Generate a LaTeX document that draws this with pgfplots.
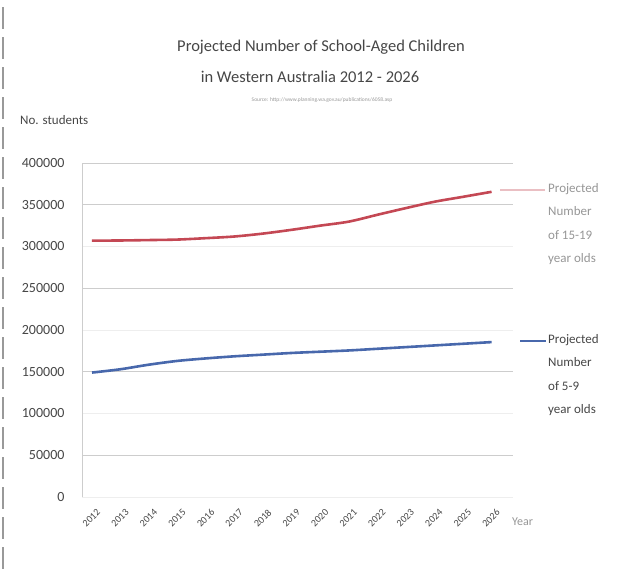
\documentclass[border=0pt]{standalone}
\usepackage{fontspec}
\setmainfont{Carlito}
\usepackage{pgfplots}
\pgfplotsset{compat=1.18}
\definecolor{redline}{RGB}{196,72,84}
\definecolor{blueline}{RGB}{72,104,172}
\definecolor{txt}{RGB}{70,70,70}
\definecolor{ltxt}{RGB}{150,150,150}
\definecolor{gridc}{RGB}{205,205,205}
\definecolor{gridf}{RGB}{238,238,238}

\pgfplotstableread{
year v
2012 307000
2013 307200
2014 307700
2015 308300
2016 310000
2017 312000
2018 315500
2019 320000
2020 325000
2021 329800
2022 338000
2023 346000
2024 353600
2025 359500
2026 365500
}\older

\pgfplotstableread{
year v
2012 149000
2013 153000
2014 158500
2015 163000
2016 166000
2017 168500
2018 170500
2019 172500
2020 174000
2021 175500
2022 177500
2023 179500
2024 181500
2025 183500
2026 185500
}\younger

\begin{document}
\begin{tikzpicture}[x=1pt,y=1pt]
\path[use as bounding box] (0,0) rectangle (619,569);
\draw[gray!80, line width=1.2pt, dash pattern=on 22pt off 8pt] (3,0) -- (3,569);
\begin{axis}[
  at={(82pt,72pt)}, anchor=south west,
  scale only axis, width=431pt, height=334pt,
  xmin=2011.65, xmax=2026.75,
  ymin=0, ymax=400000,
  ytick={0,50000,...,400000},
  xtick={2012,...,2026},
  scaled y ticks=false,
  axis lines*=left,
  x axis line style={draw=none},
  y axis line style={draw=gridc},
  major tick length=0pt,
  ymajorgrids,
  grid style={draw=gridf, line width=0.8pt},
  extra y ticks={50000,150000,250000,350000,400000},
  extra y tick labels={},
  extra y tick style={grid=major, major grid style={draw=gridc, line width=0.8pt}},
  /pgf/number format/.cd, fixed, 1000 sep={}, assume math mode=true,
  /pgfplots/.cd,
  yticklabel style={font=\fontsize{14}{16}\selectfont, text=txt, anchor=east, xshift=-14pt},
  yticklabel={\pgfmathprintnumber[fixed,1000 sep={},assume math mode=true]{\tick}},
  xticklabel style={font=\fontsize{10}{12}\selectfont, text=txt, rotate=45, anchor=north east, inner sep=1pt, xshift=-4pt, yshift=-10pt},
  xticklabel={\pgfmathprintnumber[fixed,1000 sep={},assume math mode=true]{\tick}},
  clip=false,
]
\addplot[redline, line width=2.6pt, smooth] table[x=year,y=v]{\older};
\addplot[blueline, line width=2.6pt, smooth] table[x=year,y=v]{\younger};
\end{axis}
% title and labels
\node[text=txt, font=\fontsize{16.5}{19}\selectfont] at (321,522) {Projected Number of School-Aged Children};
\node[text=txt, font=\fontsize{16.5}{19}\selectfont] at (310,492) {in Western Australia 2012 - 2026};
\node[text=ltxt, font=\fontsize{5.5}{7}\selectfont] at (322,469) {Source: http://www.planning.wa.gov.au/publications/6058.asp};
\node[text=txt, anchor=west, font=\fontsize{13}{15}\selectfont, inner sep=0pt] at (20,449) {No. students};
\node[text=ltxt, anchor=west, font=\fontsize{12}{14}\selectfont, inner sep=0pt] at (512,47) {Year};
% end labels
\draw[redline!35, line width=1.5pt] (500,379) -- (545,379);
\draw[blueline, line width=1.5pt] (520,228) -- (546,228);
\node[text=ltxt, anchor=north west, align=left, inner sep=0pt, font=\fontsize{13}{23.5}\selectfont] at (548,386) {Projected\\Number\\of 15-19\\year olds};
\node[text=txt, anchor=north west, align=left, inner sep=0pt, font=\fontsize{13}{23.5}\selectfont] at (548,235) {Projected\\Number\\of 5-9\\year olds};
\end{tikzpicture}
\end{document}
